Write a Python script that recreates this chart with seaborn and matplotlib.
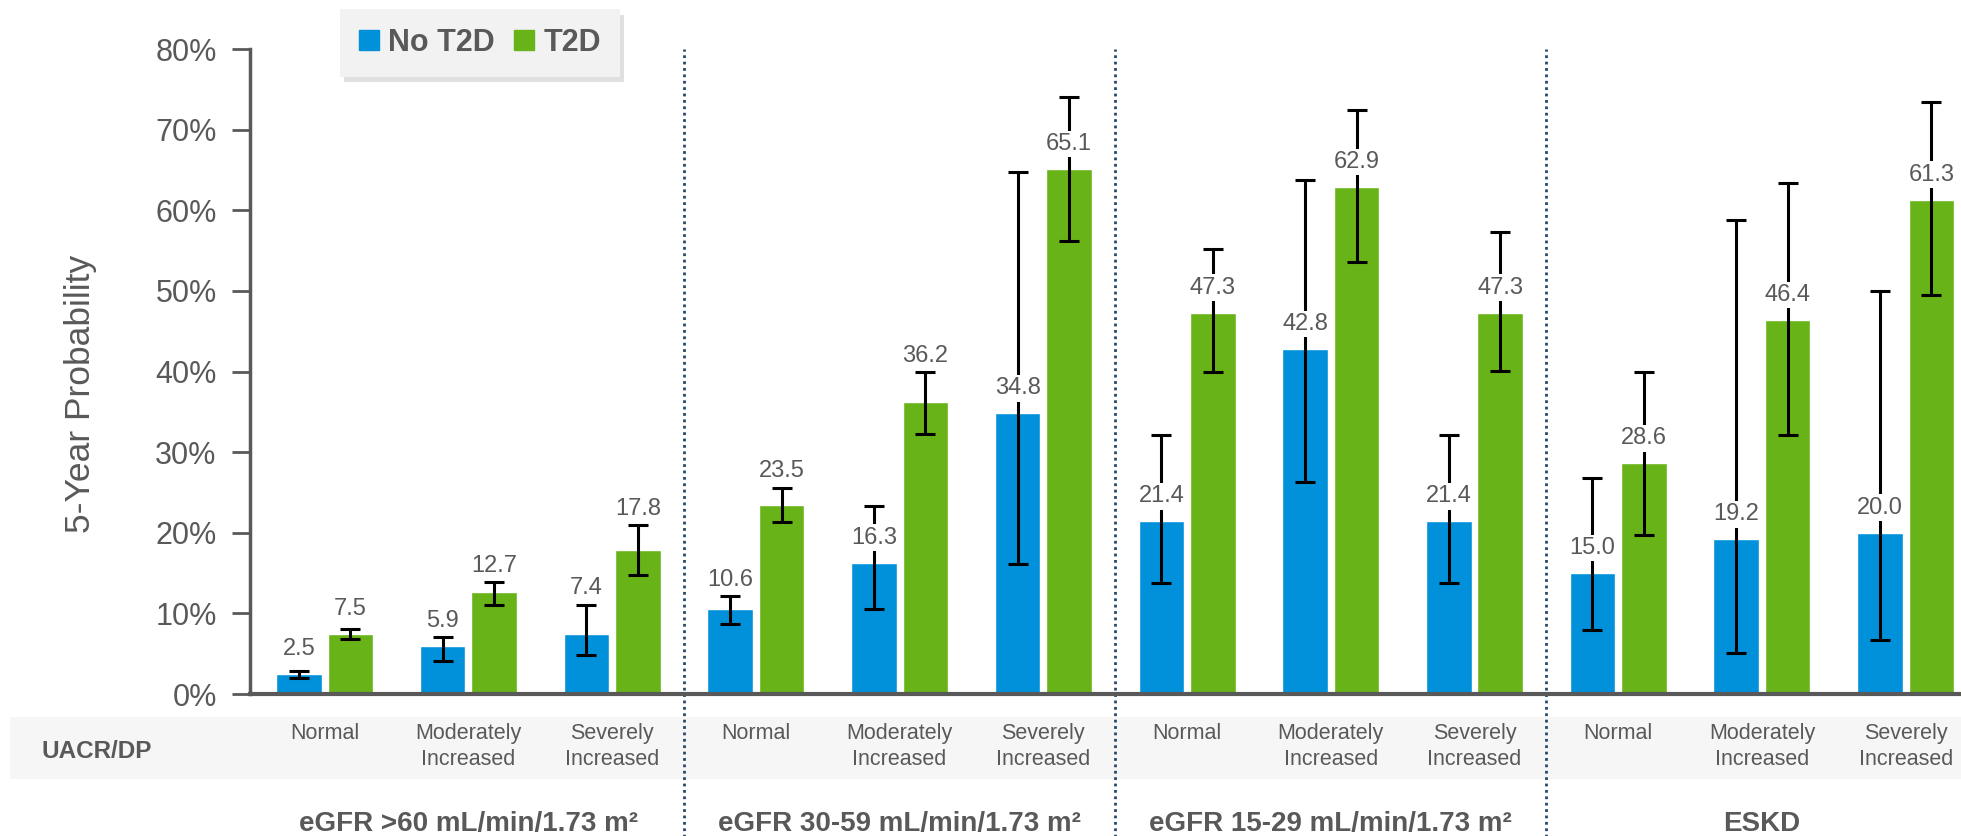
import numpy as np
import pandas as pd
import matplotlib
matplotlib.use("Agg")
import matplotlib.pyplot as plt
from matplotlib.patches import Rectangle, Patch
from matplotlib.transforms import blended_transform_factory
import seaborn as sns

# ---- data ---------------------------------------------------------------
groups = ["eGFR >60 mL/min/1.73 m²", "eGFR 30-59 mL/min/1.73 m²",
          "eGFR 15-29 mL/min/1.73 m²", "ESKD"]
uacr_levels = ["Normal", "Moderately\nIncreased", "Severely\nIncreased"]
series = ["No T2D", "T2D"]

no_t2d = [2.5, 5.9, 7.4, 10.6, 16.3, 34.8, 21.4, 42.8, 21.4, 15.0, 19.2, 20.0]
no_t2d_lo = [2.0, 4.1, 4.8, 8.7, 10.5, 16.1, 13.8, 26.3, 13.8, 7.9, 5.1, 6.7]
no_t2d_hi = [2.9, 7.1, 11.1, 12.1, 23.3, 64.8, 32.1, 63.8, 32.1, 26.8, 58.8, 50.0]

t2d = [7.5, 12.7, 17.8, 23.5, 36.2, 65.1, 47.3, 62.9, 47.3, 28.6, 46.4, 61.3]
t2d_lo = [6.8, 11.1, 14.8, 21.3, 32.3, 56.2, 39.9, 53.6, 40.1, 19.7, 32.1, 49.5]
t2d_hi = [8.1, 13.9, 21.0, 25.6, 39.9, 74.0, 55.2, 72.4, 57.3, 39.9, 63.4, 73.4]

y_ticks = [0, 10, 20, 30, 40, 50, 60, 70, 80]

# ---- style --------------------------------------------------------------
BLUE = "#0091DA"
GREEN = "#68B317"
GREY = "#595959"
DIVIDER = "#24496b"

sns.set_style("white")
plt.rcParams["font.family"] = ["Liberation Sans", "DejaVu Sans"]

W, H = 1961, 836
fig = plt.figure(figsize=(W / 100, H / 100), dpi=100)
ax = fig.add_axes([250 / W, (H - 694) / H, (W - 250) / W, (694 - 49) / H])

n_slots = len(groups) * len(uacr_levels)
df = pd.DataFrame({
    "slot": list(range(n_slots)) * 2,
    "series": [series[0]] * n_slots + [series[1]] * n_slots,
    "value": no_t2d + t2d,
})

sns.barplot(data=df, x="slot", y="value", hue="series", hue_order=series,
            palette=[BLUE, GREEN], saturation=1, width=0.716, gap=0.115,
            errorbar=None, legend=False, ax=ax, zorder=2)

# ---- error bars and value labels -----------------------------------------
ci = [(no_t2d, no_t2d_lo, no_t2d_hi), (t2d, t2d_lo, t2d_hi)]
for container, (vals, lo, hi) in zip(ax.containers, ci):
    xs = np.array([b.get_x() + b.get_width() / 2 for b in container])
    vals = np.asarray(vals)
    lo = np.asarray(lo)
    hi = np.asarray(hi)
    ax.errorbar(xs, vals, yerr=[vals - lo, hi - vals], fmt="none",
                ecolor="black", elinewidth=2.2, capsize=7, capthick=2.2,
                zorder=3)
    for x, v, h in zip(xs, vals, hi):
        ly = v + 3.1
        if h - v < 6:
            ly = max(ly, h + 2.0)
        ax.text(x, ly, f"{v:.1f}", ha="center", va="center",
                fontsize=17, color=GREY, zorder=5,
                bbox=dict(boxstyle="square,pad=0.1", fc="white", ec="none"))

# ---- axes ----------------------------------------------------------------
ax.set_xlim(-0.52, 11.385)
ax.set_ylim(0, 80)
ax.set_yticks(y_ticks)
ax.set_yticklabels([f"{t}%" for t in y_ticks])
ax.tick_params(axis="y", length=13, width=2, color=GREY, pad=11,
               labelsize=22, labelcolor=GREY, left=True)
ax.set_xticks(range(n_slots))
ax.set_xticklabels(uacr_levels * len(groups), fontsize=15.5, color=GREY,
                   linespacing=1.3)
ax.tick_params(axis="x", length=0, pad=21)
ax.set_xlabel("")

for side in ("top", "right"):
    ax.spines[side].set_visible(False)
ax.spines["left"].set_color(GREY)
ax.spines["left"].set_linewidth(2.5)
ax.spines["bottom"].set_color(GREY)
ax.spines["bottom"].set_linewidth(3)

ax.set_ylabel("5-Year Probability", fontsize=25.5, color=GREY)
ax.yaxis.label.set_verticalalignment("center")
ax.yaxis.set_label_coords(-0.099, 0.465)

# dotted separators between eGFR groups
for k in range(1, len(groups)):
    ax.axvline(k * len(uacr_levels) - 0.5, ymin=-0.23, ymax=1.0,
               clip_on=False, color=DIVIDER, lw=2,
               ls=(0, (1, 1.3)), zorder=1)

# UACR/DP band under the axis
fig.add_artist(Rectangle((10 / W, (H - 779) / H), 1, 62 / H,
                         transform=fig.transFigure, fc="#f6f6f6",
                         ec="none", zorder=-1))
fig.text(97 / W, 1 - 751 / H, "UACR/DP", ha="center", va="center",
         fontsize=17.5, fontweight="bold", color=GREY)

# eGFR group titles
trans = blended_transform_factory(ax.transData, fig.transFigure)
for i, g in enumerate(groups):
    ax.text(i * len(uacr_levels) + 1, 1 - 831 / H, g, transform=trans,
            ha="center", va="baseline", fontsize=20, fontweight="bold",
            color=GREY)

# legend
handles = [Patch(color=BLUE), Patch(color=GREEN)]
leg = ax.legend(handles, series, loc="upper left",
                bbox_to_anchor=(340 / W, 1 - 9 / H),
                bbox_transform=fig.transFigure, ncol=2, frameon=True,
                facecolor="#f2f2f2", edgecolor="none", framealpha=1,
                fancybox=False,
                shadow={"ox": 3, "oy": -4, "facecolor": "#d4d4d4",
                        "edgecolor": "none", "alpha": 0.7},
                handlelength=0.65, handleheight=0.65, handletextpad=0.3,
                columnspacing=0.65, borderpad=0.62, borderaxespad=0,
                prop={"weight": "bold", "size": 22}, labelcolor=GREY)

fig.savefig("out.png", dpi=100)
